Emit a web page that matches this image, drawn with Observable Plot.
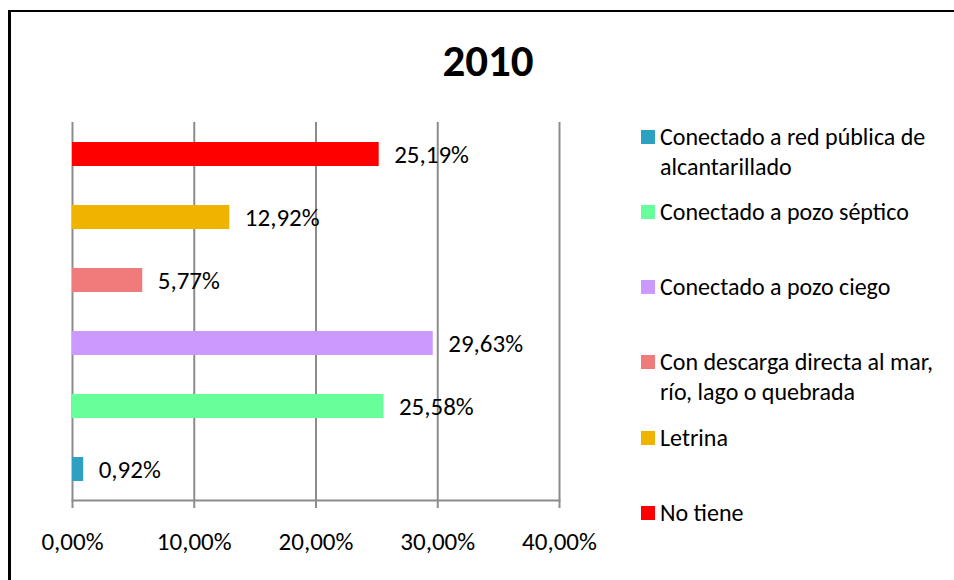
<!DOCTYPE html>
<html>
<head>
<meta charset="utf-8">
<script src="https://cdn.jsdelivr.net/npm/d3@7"></script>
<script src="https://cdn.jsdelivr.net/npm/@observablehq/plot@0.6"></script>
<style>
  html, body { margin: 0; padding: 0; background: #fff; }
  #wrap { position: relative; width: 954px; height: 580px; overflow: hidden; font-family: Carlito, Lato, sans-serif; }
  #border { position: absolute; left: 8px; top: 10px; right: -10px; bottom: -10px; border-left: 3px solid #000; border-top: 2px solid #000; }
  #title { position: absolute; left: 388px; width: 200px; top: 36px; text-align: center; font-weight: bold; font-size: 45px; line-height: 50px; color: #000; }
  #chart { position: absolute; left: 0; top: 0; }
  .leg { position: absolute; left: 641px; font-size: 24px; line-height: 30px; color: #000; white-space: pre-line; }
  .leg .sw { position: absolute; left: 0; top: 8px; width: 14px; height: 14px; }
  .leg .tx { position: absolute; left: 19px; top: 0; width: 320px; }
</style>
</head>
<body>
<div id="wrap">
  <div id="border"></div>
  <div id="chart"></div>
  <div id="title"></div>
</div>
<script>
const title = "2010";
const categories = [
  "Conectado a red pública de alcantarillado",
  "Conectado a pozo séptico",
  "Conectado a pozo ciego",
  "Con descarga directa al mar, río, lago o quebrada",
  "Letrina",
  "No tiene"
];
const legendLabels = [
  "Conectado a red pública de\nalcantarillado",
  "Conectado a pozo séptico",
  "Conectado a pozo ciego",
  "Con descarga directa al mar,\nrío, lago o quebrada",
  "Letrina",
  "No tiene"
];
const values = [0.92, 25.58, 29.63, 5.77, 12.92, 25.19];
const colors = ["#2fa1c0", "#66ff99", "#cc99ff", "#ef7b7b", "#f0b400", "#ff0000"];
const xTicks = [0, 10, 20, 30, 40];

const fmt = d => d.toFixed(2).replace(".", ",") + "%";
const data = categories.map((c, i) => ({cat: c, value: values[i]}));

document.getElementById("title").textContent = title;

const chart = Plot.plot({
  width: 954,
  height: 580,
  marginLeft: 72,
  marginRight: 395,
  marginTop: 122,
  marginBottom: 80,
  style: {fontFamily: "Carlito, Lato, sans-serif", fontSize: "25px", background: "transparent", color: "#000"},
  x: {domain: [0, 40]},
  y: {domain: categories.slice().reverse(), paddingInner: 0.62, paddingOuter: 0.31, axis: null},
  color: {domain: categories, range: colors},
  marks: [
    Plot.ruleX(xTicks, {stroke: "#8c8c8c", strokeWidth: 2, insetBottom: -8}),
    Plot.frame({anchor: "bottom", stroke: "#8c8c8c", strokeWidth: 2}),
    Plot.barX(data, {x: "value", y: "cat", fill: "cat"}),
    Plot.text(data, {x: "value", y: "cat", text: d => fmt(d.value), textAnchor: "start", dx: 15, fill: "#000", fontSize: 25}),
    Plot.axisX({ticks: xTicks, tickFormat: fmt, tickSize: 0, tickPadding: 32, fill: "#000", fontSize: 25, label: null})
  ]
});
document.getElementById("chart").appendChild(chart);

const legendTops = [122, 197, 272, 347, 423, 498];
const wrap = document.getElementById("wrap");
categories.forEach((c, i) => {
  const item = document.createElement("div");
  item.className = "leg";
  item.style.top = legendTops[i] + "px";
  const sw = document.createElement("div");
  sw.className = "sw";
  sw.style.background = colors[i];
  const tx = document.createElement("div");
  tx.className = "tx";
  tx.textContent = legendLabels[i];
  item.appendChild(sw);
  item.appendChild(tx);
  wrap.appendChild(item);
});
</script>
</body>
</html>
